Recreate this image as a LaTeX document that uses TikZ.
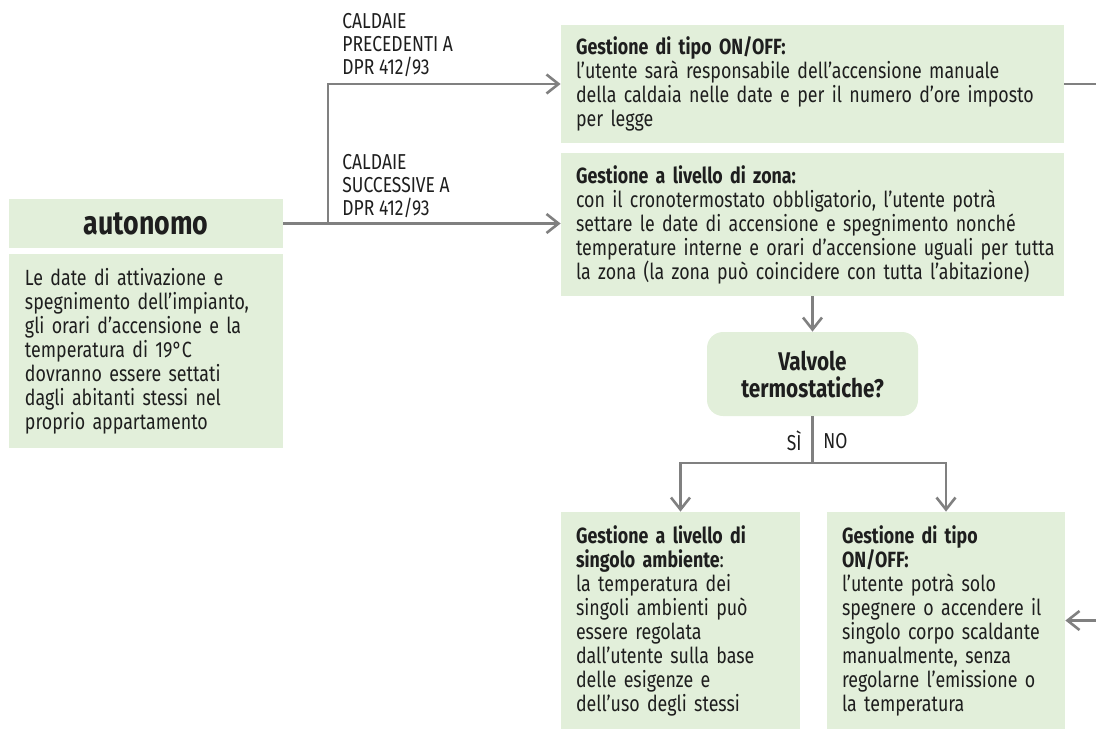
\documentclass[tikz,border=0pt]{standalone}
\usepackage{fontspec}
\setmainfont[FakeStretch=0.81]{Fira Sans}
\usetikzlibrary{arrows.meta}
\definecolor{boxfill}{HTML}{E2EFDA}
\definecolor{linegray}{HTML}{808080}
\definecolor{txt}{HTML}{1E1E1E}
\newcommand\nb[1]{\mbox{#1}}
\begin{document}
\begin{tikzpicture}[x=0.5pt,y=-0.5pt,
  box/.style={rectangle, fill=boxfill, draw=none, inner sep=0pt, text=txt,
    font=\fontsize{11}{12}\selectfont, align=left},
  lbl/.style={inner sep=0pt, text=txt, font=\fontsize{10.8}{11.5}\selectfont, align=left},
  wire/.style={draw=linegray, line width=1.4pt},
  conn/.style={wire, -{Straight Barb[length=6pt,width=9.5pt,line width=1.3pt]}}]
\useasboundingbox (0,0) rectangle (1096,729);

% left column
\node[box, minimum width=137pt, minimum height=24.5pt, align=center,
      font=\fontsize{16.5}{17}\selectfont\bfseries] (autohead) at (146,223.5) {autonomo};
\node[box, minimum width=137pt, minimum height=97pt, text width=121pt] (autobody) at (146,351)
  {\nb{Le date di attivazione e}\\\nb{spegnimento dell’impianto,}\\\nb{gli orari d’accensione e la}\\\nb{temperatura di 19°C}\\\nb{dovranno essere settati}\\\nb{dagli abitanti stessi nel}\\\nb{proprio appartamento}};

% right boxes
\node[box, minimum width=251.5pt, minimum height=59pt, text width=236.5pt] (box1) at (812.5,84)
  {\textbf{Gestione di tipo ON/OFF:}\\\nb{l’utente sarà responsabile dell’accensione manuale}\\\nb{della caldaia nelle date e per il numero d’ore imposto}\\per legge};
\node[box, minimum width=251.5pt, minimum height=71.5pt, text width=236.5pt] (box2) at (812.5,224.5)
  {\textbf{Gestione a livello di zona:}\\\nb{con il cronotermostato obbligatorio, l’utente potrà}\\\nb{settare le date di accensione e spegnimento nonché}\\\nb{temperature interne e orari d’accensione uguali per tutta}\\\nb{la zona (la zona può coincidere con tutta l’abitazione)}};

\node[box, minimum width=105.5pt, minimum height=42pt, rounded corners=8pt, align=center,
      font=\fontsize{12.8}{13.5}\selectfont\bfseries] (dec) at (812.5,374) {Valvole\\termostatiche?};

\node[box, minimum width=119.5pt, minimum height=108.5pt, text width=104.5pt] (box3) at (680.5,620.5)
  {\textbf{Gestione a livello di}\\\textbf{singolo ambiente}:\\\nb{la temperatura dei}\\\nb{singoli ambienti può}\\\nb{essere regolata}\\\nb{dall’utente sulla base}\\\nb{delle esigenze e}\\\nb{dell’uso degli stessi}};
\node[box, minimum width=119pt, minimum height=108.5pt, text width=104pt] (box4) at (946,620.5)
  {\textbf{Gestione di tipo}\\\textbf{ON/OFF:}\\\nb{l’utente potrà solo}\\\nb{spegnere o accendere il}\\\nb{singolo corpo scaldante}\\\nb{manualmente, senza}\\\nb{regolarne l’emissione o}\\\nb{la temperatura}};

% labels
\node[lbl, anchor=north west] (lab1) at (342,13) {CALDAIE\\PRECEDENTI A\\DPR 412/93};
\node[lbl, anchor=north west] (lab2) at (342,154) {CALDAIE\\SUCCESSIVE A\\DPR 412/93};
\node[lbl, anchor=east] (si) at (802,441) {SÌ};
\node[lbl, anchor=west] (no) at (823,441) {NO};

% connectors
\coordinate (j) at (328,223.5);
\draw[conn] (autohead.east) -- (autohead.east -| box2.west);
\draw[conn] (j) |- (box1.west);
\draw[conn] (box2.south) -- (dec.north);
\coordinate (split) at (812.5,463);
\draw[wire] (dec.south) -- (split);
\draw[conn] (split) -| (box3.north);
\draw[conn] (split) -| (box4.north);
\coordinate (loop) at (1130,84);
\draw[conn] (box1.east) -- (loop) |- (box4.east);
\end{tikzpicture}
\end{document}
